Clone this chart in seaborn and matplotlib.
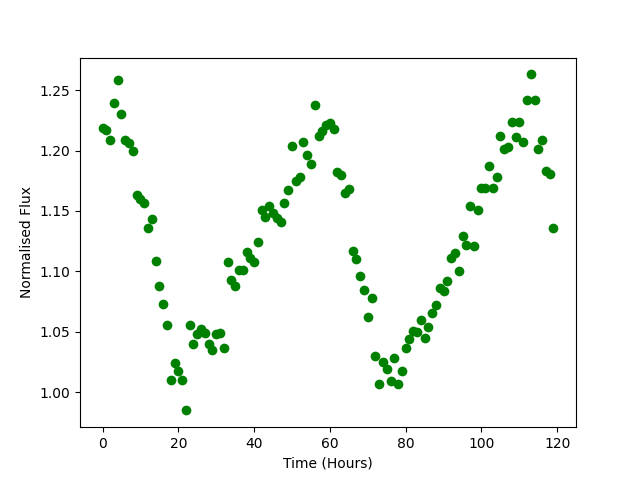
import numpy as np
import pandas as pd
import matplotlib
matplotlib.use('Agg')
import matplotlib.pyplot as plt
import seaborn as sns

# Hourly normalised flux readings
hours = np.arange(120)
flux = [
    1.219, 1.217, 1.209, 1.239, 1.258, 1.230, 1.209, 1.206, 1.200, 1.163,
    1.160, 1.157, 1.136, 1.143, 1.109, 1.088, 1.073, 1.056, 1.010, 1.024,
    1.018, 1.010, 0.985, 1.056, 1.040, 1.048, 1.052, 1.049, 1.040, 1.035,
    1.048, 1.049, 1.037, 1.108, 1.093, 1.088, 1.101, 1.101, 1.116, 1.111,
    1.108, 1.124, 1.151, 1.145, 1.154, 1.148, 1.144, 1.141, 1.157, 1.167,
    1.204, 1.175, 1.178, 1.207, 1.196, 1.189, 1.238, 1.212, 1.216, 1.221,
    1.223, 1.218, 1.182, 1.180, 1.165, 1.168, 1.117, 1.110, 1.096, 1.085,
    1.062, 1.078, 1.030, 1.007, 1.025, 1.019, 1.009, 1.028, 1.007, 1.018,
    1.037, 1.044, 1.051, 1.050, 1.060, 1.045, 1.054, 1.066, 1.072, 1.086,
    1.084, 1.092, 1.111, 1.115, 1.100, 1.129, 1.122, 1.154, 1.121, 1.151,
    1.169, 1.169, 1.187, 1.169, 1.178, 1.212, 1.201, 1.203, 1.224, 1.211,
    1.224, 1.207, 1.242, 1.263, 1.242, 1.201, 1.209, 1.183, 1.181, 1.136,
]

df = pd.DataFrame({'time': hours, 'flux': flux})

fig, ax = plt.subplots(figsize=(6.4, 4.8), dpi=100)
sns.scatterplot(data=df, x='time', y='flux', ax=ax, color='green',
                s=49, linewidth=0)
ax.set_xlabel('Time (Hours)')
ax.set_ylabel('Normalised Flux')

plt.savefig('out.png', dpi=100)
